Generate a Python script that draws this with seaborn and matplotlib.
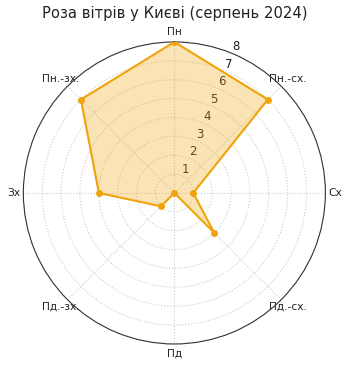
import numpy as np
import matplotlib
matplotlib.use("Agg")
import matplotlib.pyplot as plt
import seaborn as sns

directions = ["Пн", "Пн.-сх.", "Сх", "Пд.-сх.", "Пд", "Пд.-зх.", "Зх", "Пн.-зх."]
values = [8, 7, 1, 3, 0, 1, 4, 7]
r_ticks = [1, 2, 3, 4, 5, 6, 7, 8]
title = "Роза вітрів у Києві (серпень 2024)"

sns.set_theme(style="white")
plt.rcParams['font.family'] = ['DejaVu Sans']

color = "#F0A30A"
fig = plt.figure(figsize=(3.5, 3.67), dpi=100)
ax = fig.add_axes([0.0667, 0.0627, 0.863, 0.823], projection="polar")
ax.set_theta_zero_location("N")
ax.set_theta_direction(-1)

n = len(directions)
angles = np.linspace(0, 2 * np.pi, n, endpoint=False)
a_closed = np.concatenate([angles, angles[:1]])
v_closed = values + values[:1]

ax.fill(a_closed, v_closed, color=color, alpha=0.3, linewidth=0, zorder=2)
sns.lineplot(x=a_closed, y=v_closed, ax=ax, color=color, linewidth=1.5,
             marker="o", markersize=5, markeredgewidth=0, sort=False,
             estimator=None, zorder=3)

ax.set_ylim(0, 8)
ax.set_yticks(r_ticks)
ax.set_yticklabels([str(t) for t in r_ticks], fontsize=8.5, color="#222222")
ax.set_rlabel_position(22.5)
ax.set_xticks(angles)
ax.set_xticklabels(directions, fontsize=7.7, color="#222222")
ax.tick_params(axis="x", pad=0, length=0)
ax.grid(True, color="#cccccc", linestyle=":", linewidth=0.8)
ax.spines["polar"].set_color("#333333")
ax.spines["polar"].set_linewidth(0.8)
ax.set_xlabel("")
ax.set_ylabel("")
fig.suptitle(title, fontsize=10.6, y=0.985, color="#222222")

fig.savefig("out.png", dpi=100)
